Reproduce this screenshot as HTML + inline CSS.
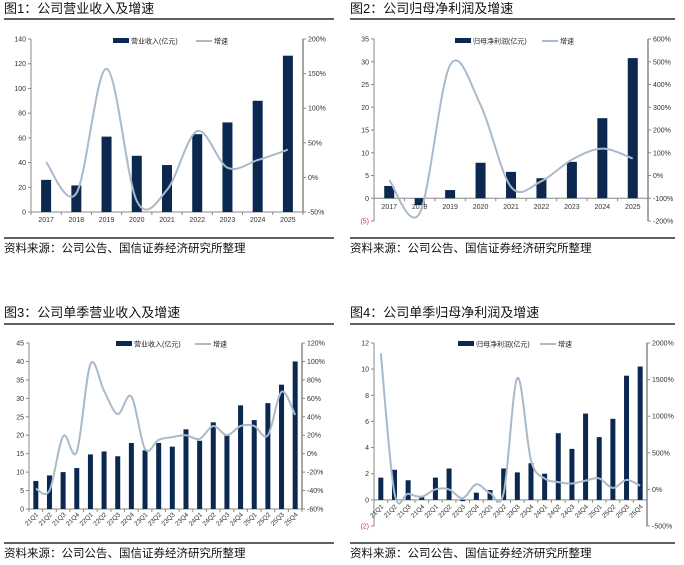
<!DOCTYPE html>
<html><head><meta charset="utf-8">
<style>
body{margin:0;background:#fff;width:684px;height:565px;overflow:hidden;font-family:"Liberation Sans","Noto Sans CJK SC",sans-serif;}
svg{position:absolute;left:0;top:0}
</style></head>
<body>
<svg id="s" width="684" height="565" xmlns="http://www.w3.org/2000/svg"></svg>
<script>
const c1Cats=["2017","2018","2019","2020","2021","2022","2023","2024","2025"];
const c1Bars=[26,21.5,61,45.5,38,63,72.5,90,126.5];
const c1Growth=[22,-23,157,-34,-18,67,14,25,40];
const c1LeftTicks=[0,20,40,60,80,100,120,140];
const c1RightTicks=[-50,0,50,100,150,200];

const c2Cats=["2017","2018","2019","2020","2021","2022","2023","2024","2025"];
const c2Bars=[2.7,-1.5,1.8,7.8,5.8,4.4,8,17.6,30.8];
const c2Growth=[-20,-165,485,310,-50,-25,70,118,75];
const c2LeftTicks=[-5,0,5,10,15,20,25,30,35];
const c2RightTicks=[-200,-100,0,100,200,300,400,500,600];

const c3Cats=["21Q1","21Q2","21Q3","21Q4","22Q1","22Q2","22Q3","22Q4","23Q1","23Q2","23Q3","23Q4","24Q1","24Q2","24Q3","24Q4","25Q1","25Q2","25Q3","25Q4"];
const c3Bars=[7.6,9.1,10,11.1,14.8,15.6,14.3,17.9,15.9,17.9,16.9,21.6,18.5,23.5,20.1,28.1,24.1,28.7,33.7,40];
const c3Growth=[-38,-40,19,2,97,68,43,62,5,15,18,20,16,30,20,30,30,20,67,42];
const c3LeftTicks=[0,5,10,15,20,25,30,35,40,45];
const c3RightTicks=[-60,-40,-20,0,20,40,60,80,100,120];

const c4Cats=c3Cats.slice();
const c4Bars=[1.7,2.3,1.5,0.3,1.7,2.4,-0.1,0.55,0.75,2.4,2.1,2.8,2.0,5.1,3.9,6.6,4.8,6.2,9.5,10.2];
const c4Growth=[1860,-50,-60,-100,0,0,-120,70,-50,-50,1520,400,150,100,80,120,150,20,130,50];
const c4LeftTicks=[-2,0,2,4,6,8,10,12];
const c4RightTicks=[-500,0,500,1000,1500,2000];

const NS="http://www.w3.org/2000/svg";
const svg=document.getElementById('s');
function el(tag,attrs,parent,text){const e=document.createElementNS(NS,tag);for(const k in attrs)e.setAttribute(k,attrs[k]);if(text!==undefined)e.textContent=text;(parent||svg).appendChild(e);return e;}
const BAR="#0b2850",LINE="#a9bacb";

function chart(o){
  const g=el('g',{});
  
  
  const t=el('text',{x:o.tx,y:o.titleY,'font-size':13,fill:'#111'},g,o.title);
  
  
  const l1=el('line',{x1:o.tx,x2:o.tx2,y1:o.ruleY,y2:o.ruleY,stroke:'#000','stroke-width':1.2},g);
  
  
  const l2=el('line',{x1:o.tx,x2:o.tx2,y1:o.srcRuleY,y2:o.srcRuleY,stroke:'#000','stroke-width':1.2},g);
  
  
  const src=el('text',{x:o.tx,y:o.srcY,'font-size':11.5,fill:'#111'},g,'资料来源：公司公告、国信证券经济研究所整理');
  
  
  const L=o.L,R=o.R,T=o.T,B=o.B;
  const lmin=o.lt[0],lmax=o.lt[o.lt.length-1],rmin=o.rt[0],rmax=o.rt[o.rt.length-1];
  const yL=v=>B-(v-lmin)/(lmax-lmin)*(B-T);
  const yR=v=>B-(v-rmin)/(rmax-rmin)*(B-T);
  const n=o.cats.length,slot=(R-L)/n;
  const xC=i=>L+slot*(i+0.5);
  const ax=el('line',{x1:L,x2:L,y1:T,y2:B,stroke:'#888','stroke-width':1},g);
  
  
  const ax2=el('line',{x1:R,x2:R,y1:T,y2:B,stroke:'#888','stroke-width':1.5},g);
  
  
  const y0=yL(0);
  const xa=el('line',{x1:L,x2:R,y1:y0,y2:y0,stroke:'#888','stroke-width':1},g);
  
  
  o.lt.forEach(v=>{
    el('line',{x1:L-3,x2:L,y1:yL(v),y2:yL(v),stroke:'#888'},g);
    const tx=el('text',{x:L-5,y:yL(v)+2.5,'font-size':7,'text-anchor':'end',fill:v<0?'#e03030':'#333'},g,v<0?'('+(-v)+')':String(v));
    
    
  });
  o.rt.forEach(v=>{
    el('line',{x1:R,x2:R+3,y1:yR(v),y2:yR(v),stroke:'#888'},g);
    const tx=el('text',{x:R+5,y:yR(v)+2.5,'font-size':7,fill:'#333'},g,v+'%');
    
    
  });
  for(let i=0;i<=n;i++){const x=L+slot*i;el('line',{x1:x,x2:x,y1:y0,y2:y0+3,stroke:'#888'},g);}
  o.cats.forEach((c,i)=>{
    let tx;
    if(o.rot){tx=el('text',{x:xC(i)+3,y:o.labY,'font-size':6.5,'text-anchor':'end',fill:'#333',transform:`rotate(-45 ${xC(i)+3} ${o.labY})`},g,c);}
    else tx=el('text',{x:xC(i),y:o.labY,'font-size':7,'text-anchor':'middle',fill:'#333'},g,c);
    
    
  });
  o.bars.forEach((v,i)=>{
    const y=Math.min(yL(v),y0),h=Math.abs(yL(v)-y0);
    const r=el('rect',{x:xC(i)-o.bw/2,y:y,width:o.bw,height:h,fill:BAR},g);
    
    
  });
  const P=o.growth.map((v,i)=>[xC(i),yR(v)]);
  let d='M'+P[0][0]+','+P[0][1];
  for(let i=0;i<P.length-1;i++){
    const p0=P[i-1]||P[i],p1=P[i],p2=P[i+1],p3=P[i+2]||p2;
    const c1=[p1[0]+(p2[0]-p0[0])/6,p1[1]+(p2[1]-p0[1])/6],c2=[p2[0]-(p3[0]-p1[0])/6,p2[1]-(p3[1]-p1[1])/6];
    d+=` C${c1[0]},${c1[1]} ${c2[0]},${c2[1]} ${p2[0]},${p2[1]}`;
  }
  const pl=el('path',{d:d,fill:'none',stroke:LINE,'stroke-width':2},g);
  
  
  const lg=el('g',{},g);
  
  
  const lx=o.legX,ly=o.legY;
  el('rect',{x:lx,y:ly-3,width:16,height:5,fill:BAR},lg);
  el('text',{x:lx+18,y:ly+2.5,'font-size':7,fill:'#222'},lg,o.barName);
  el('line',{x1:o.legX2,x2:o.legX2+16,y1:ly,y2:ly,stroke:LINE,'stroke-width':2},lg);
  el('text',{x:o.legX2+18,y:ly+2.5,'font-size':7,fill:'#222'},lg,'增速');
}

chart({name:'chart-annual-revenue',tx:4,tx2:334,title:'图1：公司营业收入及增速',titleY:13,ruleY:19,srcRuleY:238,srcY:252,
  L:31,R:303,T:39,B:212,lt:c1LeftTicks,rt:c1RightTicks,cats:c1Cats,bars:c1Bars,growth:c1Growth,bw:10,labY:222,
  barName:'营业收入(亿元)',legX:113,legX2:196,legY:41});
chart({name:'chart-annual-profit',tx:350,tx2:675,title:'图2：公司归母净利润及增速',titleY:13,ruleY:19,srcRuleY:238,srcY:252,
  L:374,R:648,T:39,B:221,lt:c2LeftTicks,rt:c2RightTicks,cats:c2Cats,bars:c2Bars,growth:c2Growth,bw:10,labY:209,
  barName:'归母净利润(亿元)',legX:455,legX2:542,legY:41});
chart({name:'chart-quarterly-revenue',tx:4,tx2:334,title:'图3：公司单季营业收入及增速',titleY:317,ruleY:324,srcRuleY:543,srcY:557,
  L:29,R:302,T:343,B:509,lt:c3LeftTicks,rt:c3RightTicks,cats:c3Cats,bars:c3Bars,growth:c3Growth,bw:5,labY:515,rot:true,
  barName:'营业收入(亿元)',legX:116,legX2:195,legY:344});
chart({name:'chart-quarterly-profit',tx:350,tx2:675,title:'图4：公司单季归母净利润及增速',titleY:317,ruleY:324,srcRuleY:543,srcY:557,
  L:374,R:647,T:343,B:526,lt:c4LeftTicks,rt:c4RightTicks,cats:c4Cats,bars:c4Bars,growth:c4Growth,bw:5,labY:507,rot:true,
  barName:'归母净利润(亿元)',legX:458,legX2:540,legY:344});
</script>
</body></html>
